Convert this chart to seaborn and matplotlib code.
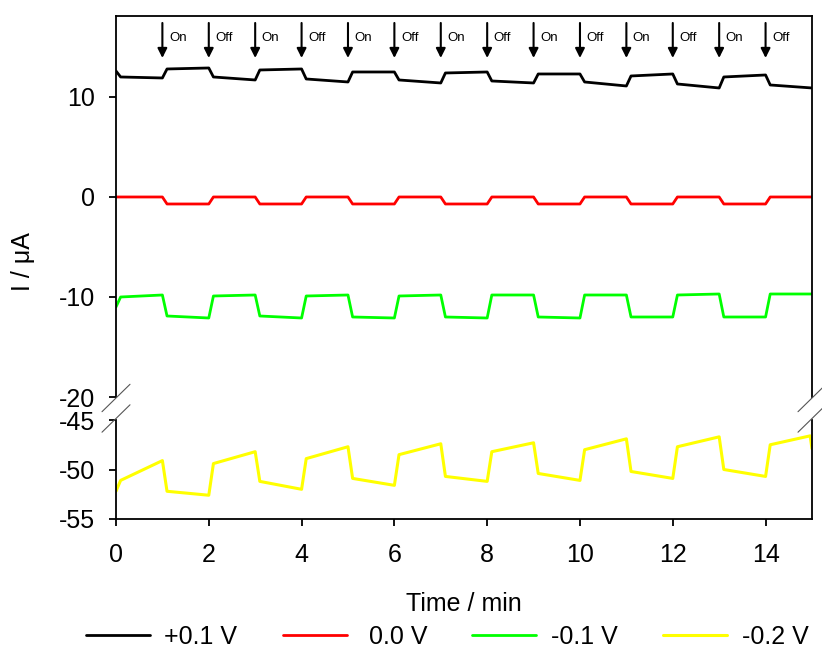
import numpy as np
import matplotlib
matplotlib.use('Agg')
import matplotlib.pyplot as plt
import seaborn as sns
from matplotlib.lines import Line2D

# one-minute light on / light off segments
minutes = np.arange(15)
arrow_times = list(range(1, 15))
arrow_labels = ['On', 'Off'] * 7
series_labels = ['+0.1 V', ' 0.0 V', '-0.1 V', '-0.2 V']
colors = ['#000000', '#ff0000', '#00ff00', '#ffff00']

# current (uA) at the start / end of each minute segment
black_first = 12.6
black_start = [12.0, 12.8, 12.0, 12.7, 11.8, 12.5, 11.7, 12.4, 11.6, 12.3, 11.5, 12.1, 11.3, 12.0, 11.2]
black_end = [11.9, 12.9, 11.7, 12.8, 11.5, 12.5, 11.4, 12.5, 11.4, 12.3, 11.1, 12.3, 10.9, 12.2, 10.9]

red_first = 0.0
red_start = [0.0, -0.7, 0.0, -0.7, 0.0, -0.7, 0.0, -0.7, 0.0, -0.7, 0.0, -0.7, 0.0, -0.7, 0.0]
red_end = [0.0, -0.7, 0.0, -0.7, 0.0, -0.7, 0.0, -0.7, 0.0, -0.7, 0.0, -0.7, 0.0, -0.7, 0.0]

green_first = -11.0
green_start = [-10.0, -11.9, -9.9, -11.9, -9.9, -12.0, -9.9, -12.0, -9.8, -12.0, -9.8, -12.0, -9.8, -12.0, -9.7]
green_end = [-9.8, -12.1, -9.8, -12.1, -9.8, -12.1, -9.8, -12.1, -9.8, -12.1, -9.8, -12.0, -9.7, -12.0, -9.7]

yellow_first = -52.2
yellow_start = [-51.1, -52.2, -49.4, -51.2, -48.9, -50.9, -48.5, -50.7, -48.2, -50.4, -48.0, -50.2, -47.7, -50.0, -47.5]
yellow_end = [-49.1, -52.6, -48.2, -52.0, -47.7, -51.6, -47.4, -51.2, -47.3, -51.1, -46.9, -50.9, -46.7, -50.7, -46.6]
yellow_last = -47.9


def trace(first, start, end, last=None, ramp=0.1):
    t = [0.0]
    y = [first]
    for i in minutes:
        t += [i + ramp, i + 1.0]
        y += [start[i], end[i]]
    if last is not None:
        t[-1] = 14.96
        t.append(15.0)
        y.append(last)
    return np.array(t), np.array(y)


sns.set_style('ticks')
plt.rcParams['font.family'] = ['Liberation Sans', 'DejaVu Sans']
plt.rcParams['axes.linewidth'] = 1.3
plt.rcParams['axes.unicode_minus'] = False
plt.rcParams['text.color'] = 'black'
plt.rcParams['axes.labelcolor'] = 'black'
fs = 18

fig = plt.figure(figsize=(8.22, 6.52), dpi=100)
ax_top = fig.add_axes([0.1411, 0.3911, 0.8467, 0.5844])
ax_bot = fig.add_axes([0.1411, 0.2040, 0.8467, 0.1518])

handles = []
for (first, st, en), col, lab in zip(
        [(black_first, black_start, black_end),
         (red_first, red_start, red_end),
         (green_first, green_start, green_end)],
        colors[:3], series_labels[:3]):
    t, y = trace(first, st, en)
    sns.lineplot(x=t, y=y, ax=ax_top, color=col, lw=2.0, estimator=None,
                 sort=False, legend=False)
    handles.append(ax_top.lines[-1])

t, y = trace(yellow_first, yellow_start, yellow_end, yellow_last)
sns.lineplot(x=t, y=y, ax=ax_bot, color=colors[3], lw=2.2, estimator=None,
             sort=False, legend=False)
handles.append(ax_bot.lines[-1])

for ax in (ax_top, ax_bot):
    ax.set_xlim(0, 15)
    ax.set_xlabel('')
    ax.set_ylabel('')
    ax.tick_params(direction='out', length=5, width=1.3, labelsize=fs,
                   pad=10, colors='black')
    for s in ax.spines.values():
        s.set_color('black')

ax_top.set_ylim(-20, 18.1)
ax_top.set_yticks([-20, -10, 0, 10])
ax_top.spines['bottom'].set_visible(False)
ax_top.tick_params(axis='x', bottom=False, labelbottom=False)

ax_bot.set_ylim(-55, -45)
ax_bot.set_yticks([-55, -50, -45])
ax_bot.set_xticks(range(0, 15, 2))
ax_bot.spines['top'].set_visible(False)
ax_bot.tick_params(axis='x', pad=12)
ax_bot.set_xlabel('Time / min', fontsize=fs, labelpad=18)

# light on / off markers
for tt, lab in zip(arrow_times, arrow_labels):
    ax_top.annotate('', xy=(tt, 13.9), xytext=(tt, 17.4),
                    arrowprops=dict(arrowstyle='-|>', color='black', lw=1.5,
                                    mutation_scale=14, shrinkA=0, shrinkB=0))
    ax_top.text(tt + 0.14, 15.9, lab, fontsize=9.5, va='center', ha='left')

# axis break marks
W, H = 822.0, 652.0
for px in (116, 812):
    for py in (398, 418.5):
        fig.add_artist(Line2D([(px - 14) / W, (px + 14) / W],
                              [1 - (py + 13.7) / H, 1 - (py - 13.7) / H],
                              color='#555555', lw=0.8))

fig.text(23 / W, 1 - 262 / H, 'I / \u03bcA', rotation=90, ha='center',
         va='center', fontsize=fs)

fig.legend(handles, series_labels, ncol=4, loc='center',
           bbox_to_anchor=(447 / W, 1 - 637 / H), frameon=False,
           fontsize=fs, handlelength=2.56, handletextpad=0.6,
           columnspacing=1.8)

fig.savefig('out.png', dpi=100)
